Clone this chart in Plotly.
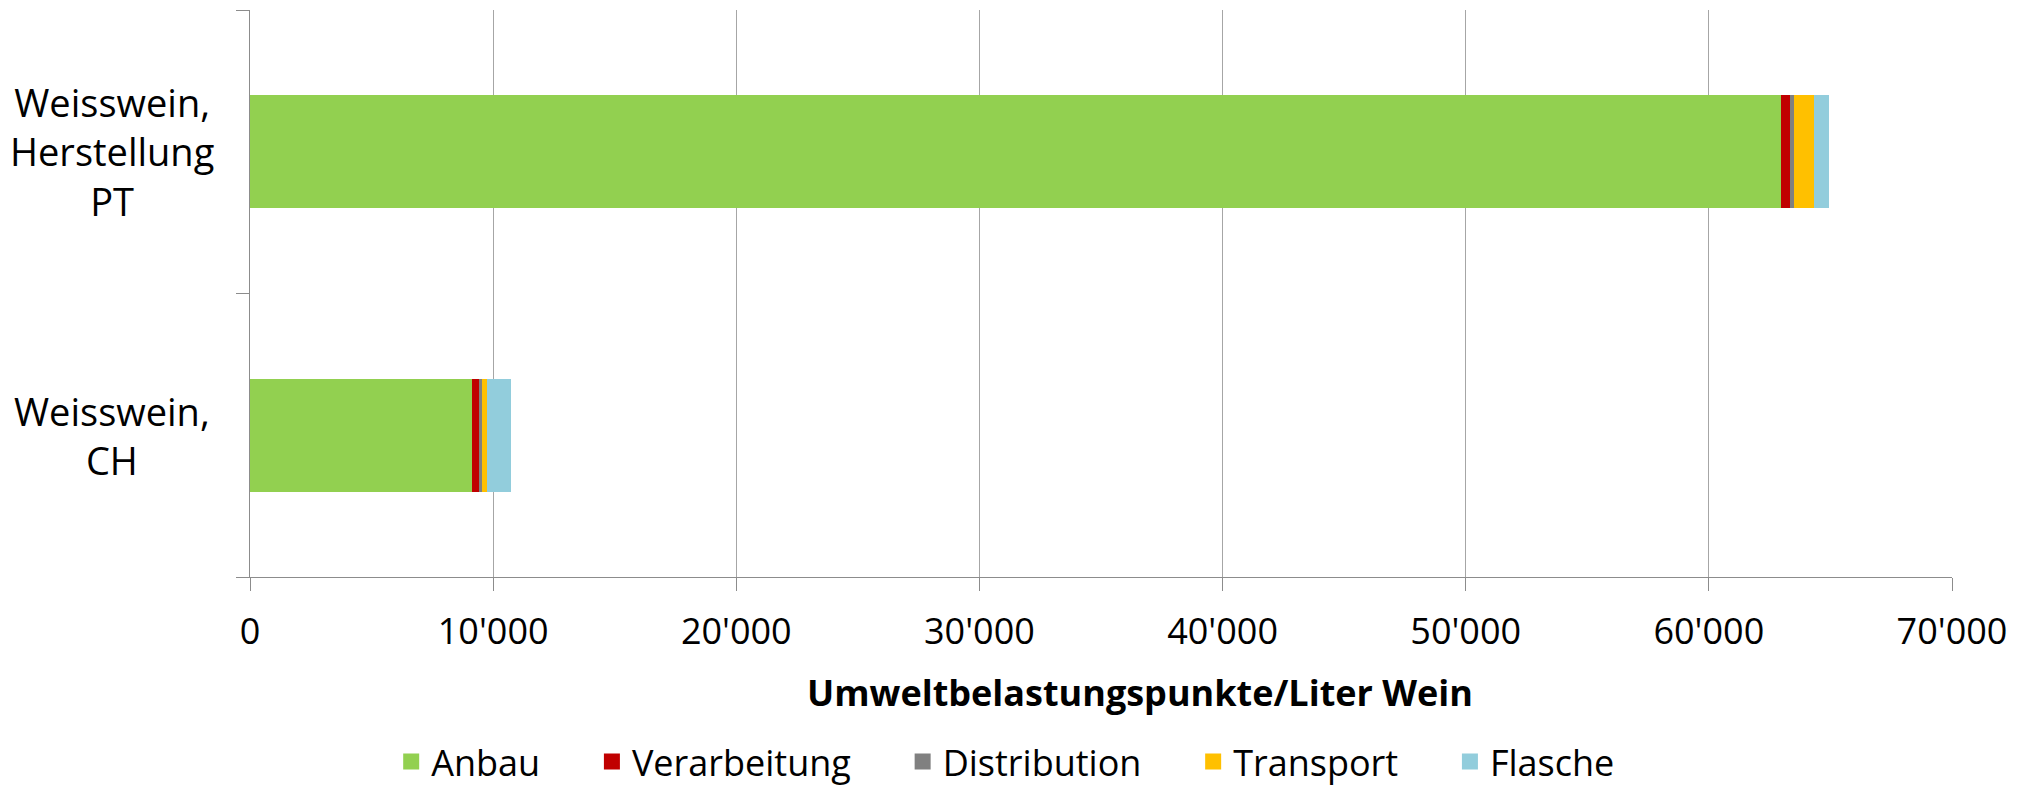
import plotly.graph_objects as go

# Kategorien (von unten nach oben) und Werte pro Lebenszyklus-Phase
kategorien = ["Weisswein,<br>CH", "Weisswein,<br>Herstellung<br>PT"]
anbau = [9130, 62980]
verarbeitung = [290, 370]
distribution = [140, 165]
transport = [205, 800]
flasche = [960, 640]

phasen = [
    ("Anbau", anbau, "#92D050"),
    ("Verarbeitung", verarbeitung, "#C00000"),
    ("Distribution", distribution, "#808080"),
    ("Transport", transport, "#FFC000"),
    ("Flasche", flasche, "#92CDDC"),
]

FONT = "Open Sans"
PAD = "\u00a0" * 5  # Abstand zwischen Legendeneinträgen

fig = go.Figure()
for i, (name, werte, farbe) in enumerate(phasen):
    fig.add_bar(
        y=kategorien, x=werte, name=name, orientation="h",
        marker=dict(color=farbe, line=dict(width=0)),
        showlegend=False,
    )
    # Dummy-Trace nur für grössere Legenden-Symbole
    fig.add_scatter(
        x=[None], y=[None], mode="markers",
        name=name + (PAD if i < len(phasen) - 1 else ""),
        marker=dict(symbol="square", size=16, color=farbe),
    )

fig.update_layout(
    width=2020, height=785,
    margin=dict(l=242, r=76, t=2, b=216),
    barmode="stack", bargap=0.6,
    plot_bgcolor="white", paper_bgcolor="white",
    separators=".'",
    font=dict(family=FONT, size=36, color="black"),
    legend=dict(
        orientation="h", x=0.444, xanchor="center",
        yref="container", y=0.040, yanchor="middle",
        font=dict(size=36), itemsizing="trace", traceorder="normal",
    ),
)

fig.update_xaxes(
    range=[0, 70000], dtick=10000, tickformat=",d",
    showgrid=True, gridcolor="#A6A6A6", gridwidth=1.3,
    showline=True, linecolor="#8C8C8C", linewidth=1.3,
    ticks="outside", ticklen=13, tickcolor="#8C8C8C", tickwidth=1.3,
    zeroline=False, tickfont=dict(size=36), ticklabelstandoff=10,
)
fig.update_yaxes(
    categoryorder="array", categoryarray=kategorien,
    showline=True, linecolor="#8C8C8C", linewidth=1.3,
    ticks="outside", ticklen=13, tickcolor="#8C8C8C", tickwidth=1.3,
    tickson="boundaries", showticklabels=False, showgrid=False,
)

# Zentrierte Kategorienbeschriftungen
for kat in kategorien:
    fig.add_annotation(
        text=kat, x=-0.081, xref="paper", y=kat, yref="y",
        xanchor="center", yanchor="middle", align="center",
        showarrow=False, font=dict(size=38),
    )

# Achsentitel
fig.add_annotation(
    text="<b>Umweltbelastungspunkte/Liter Wein</b>",
    x=0.523, xref="paper", y=-0.204, yref="paper",
    xanchor="center", yanchor="middle", showarrow=False,
    font=dict(size=36),
)

fig.write_html("out.html")
